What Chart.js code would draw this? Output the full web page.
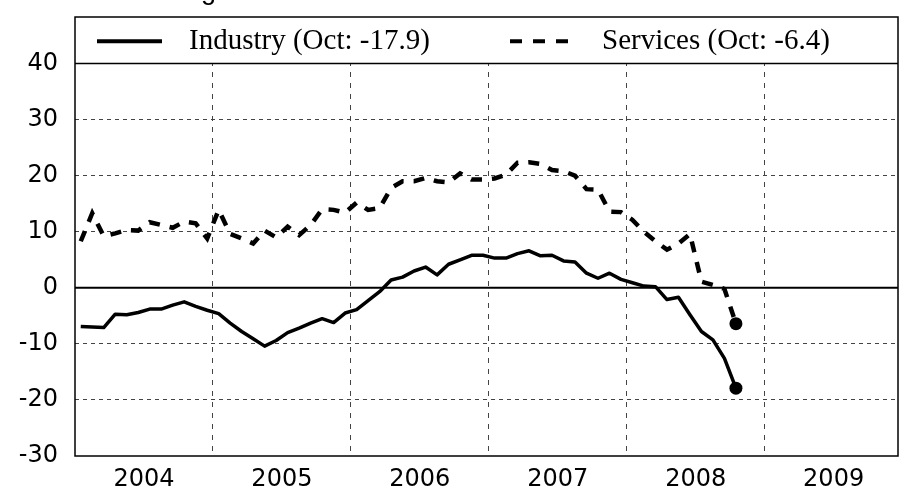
<!DOCTYPE html>
<html>
<head>
<meta charset="utf-8">
<script src="https://cdn.jsdelivr.net/npm/chart.js@4.4.1/dist/chart.umd.min.js"></script>
<style>
  html, body { margin: 0; padding: 0; background: #fff; }
  #wrap { width: 907px; height: 491px; position: relative; }
</style>
</head>
<body>
<div id="wrap"><canvas id="c" width="907" height="491"></canvas></div>
<script>
// ---- data (monthly, Jan 2004 .. Oct 2008) ----
const months = [
  '2004-01','2004-02','2004-03','2004-04','2004-05','2004-06','2004-07','2004-08','2004-09','2004-10','2004-11','2004-12',
  '2005-01','2005-02','2005-03','2005-04','2005-05','2005-06','2005-07','2005-08','2005-09','2005-10','2005-11','2005-12',
  '2006-01','2006-02','2006-03','2006-04','2006-05','2006-06','2006-07','2006-08','2006-09','2006-10','2006-11','2006-12',
  '2007-01','2007-02','2007-03','2007-04','2007-05','2007-06','2007-07','2007-08','2007-09','2007-10','2007-11','2007-12',
  '2008-01','2008-02','2008-03','2008-04','2008-05','2008-06','2008-07','2008-08','2008-09','2008-10'
];
const industry = [
  -6.9,-7.0,-7.1,-4.7,-4.8,-4.4,-3.8,-3.8,-3.1,-2.5,-3.3,-4.0,
  -4.6,-6.3,-7.8,-9.1,-10.4,-9.4,-8.0,-7.2,-6.3,-5.5,-6.2,-4.5,
  -3.9,-2.3,-0.7,1.4,1.9,3.0,3.7,2.3,4.2,5.0,5.8,5.8,
  5.3,5.3,6.1,6.6,5.7,5.8,4.8,4.6,2.6,1.7,2.6,1.5,
  0.9,0.3,0.2,-2.1,-1.7,-4.8,-7.8,-9.3,-12.6,-17.9
];
const services = [
  8.3,13.3,9.2,9.7,10.3,10.2,11.7,11.2,10.7,11.8,11.5,8.8,
  13.9,9.6,8.8,7.9,10.2,9.0,10.9,9.4,11.2,14.0,13.9,13.4,
  15.2,13.9,14.2,17.8,19.0,19.0,19.6,19.0,18.8,20.4,19.3,19.3,
  19.5,20.2,22.3,22.4,22.1,21.0,20.8,20.0,17.6,17.5,13.6,13.5,
  12.1,10.0,8.3,6.8,7.9,9.6,1.1,0.5,-0.2,-6.4
];
const yearLabels = ['2004','2005','2006','2007','2008','2009'];
const yTicks = [-30,-20,-10,0,10,20,30,40];
const seriesNames = ['Industry (Oct: -17.9)', 'Services (Oct: -6.4)'];
const titleText = 'Percentage balance';

const toPoints = arr => arr.map((v, i) => ({ x: months.indexOf(months[i]) + 0.5, y: v }));
const lastOnly = (n, r) => ctx => (ctx.dataIndex === n - 1 ? r : 0);

const GRID = '#444';

const boxPlugin = {
  id: 'boxPlugin',
  beforeDatasetsDraw(chart) {
    const { ctx, chartArea: a, scales: { y } } = chart;
    const y40 = y.getPixelForValue(40);
    const y0 = y.getPixelForValue(0);
    ctx.save();
    // zero line
    ctx.strokeStyle = '#000';
    ctx.lineWidth = 2;
    ctx.beginPath(); ctx.moveTo(a.left, y0); ctx.lineTo(a.right, y0); ctx.stroke();
    // legend box
    ctx.fillStyle = '#fff';
    ctx.fillRect(a.left, a.top, a.right - a.left, y40 - a.top);
    ctx.lineWidth = 1.5;
    ctx.beginPath(); ctx.moveTo(a.left, y40); ctx.lineTo(a.right, y40); ctx.stroke();
    const my = (a.top + y40) / 2 + 1;
    ctx.lineWidth = 4;
    ctx.beginPath(); ctx.moveTo(a.left + 22, my); ctx.lineTo(a.left + 87, my); ctx.stroke();
    ctx.setLineDash([12, 11]);
    ctx.beginPath(); ctx.moveTo(a.left + 435, my); ctx.lineTo(a.left + 494, my); ctx.stroke();
    ctx.setLineDash([]);
    ctx.fillStyle = '#000';
    ctx.font = '29px "Liberation Serif", "Times New Roman", serif';
    ctx.textBaseline = 'middle';
    ctx.textAlign = 'left';
    ctx.fillText(seriesNames[0], a.left + 114, my);
    ctx.fillText(seriesNames[1], a.left + 527, my);
    ctx.restore();
  },
  afterDraw(chart) {
    const { ctx, chartArea: a } = chart;
    ctx.save();
    ctx.strokeStyle = '#000';
    ctx.lineWidth = 1.5;
    ctx.strokeRect(a.left, a.top, a.right - a.left, a.bottom - a.top);
    // cut-off title (only the descender of the g shows)
    ctx.fillStyle = '#000';
    ctx.font = '27px "Liberation Sans", Arial, sans-serif';
    ctx.textBaseline = 'alphabetic';
    ctx.textAlign = 'left';
    const pre = ctx.measureText(titleText.slice(0, titleText.indexOf('g'))).width;
    ctx.fillText(titleText, 201 - pre, -1);
    ctx.restore();
  }
};

new Chart(document.getElementById('c'), {
  type: 'line',
  data: {
    datasets: [
      {
        label: seriesNames[0],
        data: toPoints(industry),
        borderColor: '#000',
        backgroundColor: '#000',
        borderWidth: 3.5,
        pointRadius: lastOnly(industry.length, 6.5),
        pointHoverRadius: 0,
        pointBorderWidth: 0,
        tension: 0,
        borderJoinStyle: 'round'
      },
      {
        label: seriesNames[1],
        data: toPoints(services),
        borderColor: '#000',
        backgroundColor: '#000',
        borderWidth: 4.5,
        borderDash: [11, 10],
        pointRadius: lastOnly(services.length, 6.5),
        pointHoverRadius: 0,
        pointBorderWidth: 0,
        tension: 0
      }
    ]
  },
  options: {
    responsive: false,
    animation: false,
    events: [],
    layout: { padding: { top: 17, right: 9, left: 0, bottom: 0 } },
    plugins: { legend: { display: false }, tooltip: { enabled: false }, title: { display: false } },
    scales: {
      x: {
        type: 'linear',
        min: 0,
        max: 71.6,
        afterBuildTicks: s => { s.ticks = []; for (let m = 0; m <= 66; m += 6) s.ticks.push({ value: m }); },
        afterFit: s => { s.height = 35; s.paddingLeft = 0; s.paddingRight = 0; },
        ticks: {
          autoSkip: false, maxRotation: 0, minRotation: 0, padding: 9,
          color: '#000',
          font: { family: '"DejaVu Sans", sans-serif', size: 24 },
          callback: v => (v % 12 === 6 ? yearLabels[(v - 6) / 12] : '')
        },
        grid: {
          drawTicks: false,
          color: c => (c.tick && c.tick.value % 12 === 0 && c.tick.value > 0 ? GRID : 'rgba(0,0,0,0)'),
          lineWidth: 1
        },
        border: { display: false, dash: [5, 6] }
      },
      y: {
        min: -30,
        max: 48.3,
        afterBuildTicks: s => { s.ticks = yTicks.map(v => ({ value: v })); },
        afterFit: s => { s.width = 75; s.paddingTop = 0; s.paddingBottom = 0; },
        ticks: {
          padding: 17,
          color: '#000',
          font: { family: '"DejaVu Sans", sans-serif', size: 24 }
        },
        grid: {
          drawTicks: false,
          color: c => (c.tick && c.tick.value > -30 && c.tick.value < 40 && c.tick.value !== 0 ? GRID : 'rgba(0,0,0,0)'),
          lineWidth: 1
        },
        border: { display: false, dash: [4, 4] }
      }
    }
  },
  plugins: [boxPlugin]
});
</script>
</body>
</html>
